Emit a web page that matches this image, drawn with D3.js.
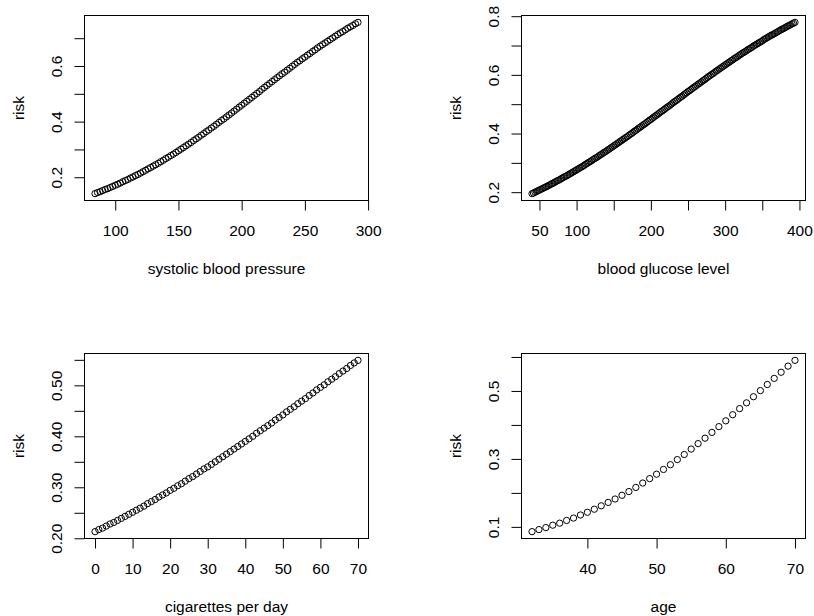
<!DOCTYPE html>
<html><head><meta charset="utf-8">
<script src="https://cdn.jsdelivr.net/npm/d3@7"></script>
<style>
html,body{margin:0;padding:0;background:#fff;}
svg{display:block;}
text{font-family:"Liberation Sans",Arial,Helvetica,sans-serif;fill:#000;}
</style></head><body>
<svg id="c" width="814" height="616"></svg>
<script>
// ---- data ----
const sbpX=[84,86,88,90,92,94,96,98,100,102,104,106,108,110,112,114,116,118,120,122,124,126,128,130,132,134,136,138,140,142,144,146,148,150,152,154,156,158,160,162,164,166,168,170,172,174,176,178,180,182,184,186,188,190,192,194,196,198,200,202,204,206,208,210,212,214,216,218,220,222,224,226,228,230,232,234,236,238,240,242,244,246,248,250,252,254,256,258,260,262,264,266,268,270,272,274,276,278,280,282,284,286,288,290,292];
const sbpRisk=[0.141,0.145,0.148,0.152,0.156,0.159,0.163,0.167,0.171,0.175,
0.179,0.184,0.188,0.192,0.197,0.201,0.206,0.210,0.215,0.220,
0.225,0.230,0.235,0.240,0.245,0.250,0.256,0.261,0.267,0.272,
0.278,0.283,0.289,0.295,0.301,0.307,0.313,0.319,0.325,0.332,
0.338,0.344,0.351,0.357,0.364,0.370,0.377,0.383,0.390,0.397,
0.404,0.410,0.417,0.424,0.431,0.438,0.445,0.452,0.459,0.466,
0.473,0.480,0.487,0.494,0.501,0.508,0.516,0.523,0.530,0.537,
0.544,0.551,0.558,0.565,0.572,0.578,0.585,0.592,0.599,0.606,
0.613,0.619,0.626,0.632,0.639,0.645,0.652,0.658,0.665,0.671,
0.677,0.683,0.689,0.695,0.701,0.707,0.713,0.719,0.724,0.730,
0.736,0.741,0.746,0.752,0.757];

const gluX=[40,42,44,46,48,50,52,54,56,58,
60,62,64,66,68,70,72,74,76,78,
80,82,84,86,88,90,92,94,96,98,
100,102,104,106,108,110,112,114,116,118,
120,122,124,126,128,130,132,134,136,138,
140,142,144,146,148,150,152,154,156,158,
160,162,164,166,168,170,172,174,176,178,
180,182,184,186,188,190,192,194,196,198,
200,202,204,206,208,210,212,214,216,218,
220,222,224,226,228,230,232,234,236,238,
240,242,244,246,248,250,252,254,256,258,
260,262,264,266,268,270,272,274,276,278,
280,282,284,286,288,290,292,294,296,298,
300,302,304,306,308,310,312,314,316,318,
320,322,324,326,328,330,332,334,336,338,
340,342,344,346,348,350,352,354,356,358,
360,362,364,366,368,370,372,374,376,378,
380,382,384,386,388,390,392,394];
const gluRisk=[0.195,0.197,0.200,0.202,0.205,0.207,0.210,0.212,0.215,0.217,
0.220,0.222,0.225,0.228,0.230,0.233,0.236,0.239,0.241,0.244,
0.247,0.250,0.253,0.255,0.258,0.261,0.264,0.267,0.270,0.273,
0.276,0.279,0.282,0.285,0.288,0.291,0.295,0.298,0.301,0.304,
0.307,0.311,0.314,0.317,0.320,0.324,0.327,0.330,0.334,0.337,
0.340,0.344,0.347,0.351,0.354,0.358,0.361,0.365,0.368,0.372,
0.375,0.379,0.382,0.386,0.389,0.393,0.397,0.400,0.404,0.408,
0.411,0.415,0.419,0.422,0.426,0.430,0.433,0.437,0.441,0.445,
0.448,0.452,0.456,0.460,0.463,0.467,0.471,0.475,0.478,0.482,
0.486,0.490,0.493,0.497,0.501,0.505,0.509,0.512,0.516,0.520,
0.524,0.527,0.531,0.535,0.539,0.543,0.546,0.550,0.554,0.558,
0.561,0.565,0.569,0.572,0.576,0.580,0.583,0.587,0.591,0.595,
0.598,0.602,0.605,0.609,0.613,0.616,0.620,0.623,0.627,0.630,
0.634,0.637,0.641,0.644,0.648,0.651,0.655,0.658,0.661,0.665,
0.668,0.672,0.675,0.678,0.681,0.685,0.688,0.691,0.694,0.698,
0.701,0.704,0.707,0.710,0.713,0.716,0.720,0.723,0.726,0.729,
0.732,0.735,0.737,0.740,0.743,0.746,0.749,0.752,0.755,0.757,
0.760,0.763,0.766,0.768,0.771,0.774,0.776,0.779];

const cigX=[0,1,2,3,4,5,6,7,8,9,10,11,12,13,14,15,16,17,18,19,20,21,22,23,24,25,26,27,28,29,30,31,32,33,34,35,36,37,38,39,40,41,42,43,44,45,46,47,48,49,50,51,52,53,54,55,56,57,58,59,60,61,62,63,64,65,66,67,68,69,70];
const cigRisk=[0.213,0.217,0.220,0.224,0.228,0.231,0.235,0.239,0.243,0.247,
0.251,0.255,0.259,0.263,0.268,0.272,0.276,0.281,0.285,0.289,
0.294,0.298,0.303,0.307,0.312,0.317,0.321,0.326,0.331,0.336,
0.340,0.345,0.350,0.355,0.360,0.365,0.370,0.375,0.380,0.385,
0.390,0.395,0.400,0.406,0.411,0.416,0.421,0.426,0.432,0.437,
0.442,0.448,0.453,0.458,0.464,0.469,0.474,0.480,0.485,0.491,
0.496,0.501,0.507,0.512,0.517,0.523,0.528,0.533,0.539,0.544,
0.549];

const ageX=[32,33,34,35,36,37,38,39,40,41,42,43,44,45,46,47,48,49,50,51,52,53,54,55,56,57,58,59,60,61,62,63,64,65,66,67,68,69,70];
const ageRisk=[0.086,0.092,0.098,0.105,0.111,0.119,0.126,0.135,0.143,0.152,
0.162,0.172,0.182,0.193,0.204,0.216,0.229,0.242,0.255,0.269,
0.283,0.298,0.313,0.329,0.345,0.361,0.378,0.395,0.412,0.430,
0.448,0.465,0.483,0.501,0.519,0.537,0.555,0.573,0.590];

// ---- ticks and labels ----
const sbpXTicks=[100,150,200,250,300];
const sbpXLabels=["100","150","200","250","300"];
const sbpYTicks=[0.2,0.3,0.4,0.5,0.6,0.7];
const sbpYLabels=["0.2","0.4","0.6"];
const gluXTicks=[50,100,150,200,250,300,350,400];
const gluXLabels=["50","100","200","300","400"];
const gluYTicks=[0.2,0.3,0.4,0.5,0.6,0.7,0.8];
const gluYLabels=["0.2","0.4","0.6","0.8"];
const cigXTicks=[0,10,20,30,40,50,60,70];
const cigXLabels=["0","10","20","30","40","50","60","70"];
const cigYTicks=[0.20,0.25,0.30,0.35,0.40,0.45,0.50,0.55];
const cigYLabels=["0.20","0.30","0.40","0.50"];
const ageXTicks=[40,50,60,70];
const ageXLabels=["40","50","60","70"];
const ageYTicks=[0.1,0.2,0.3,0.4,0.5,0.6];
const ageYLabels=["0.1","0.3","0.5"];

const xTitles=["systolic blood pressure","blood glucose level","cigarettes per day","age"];
const yTitle="risk";

// ---- layout ----
const W=284, H=185, FS=15.5;
const panels=[
  {left:84.5, top:15.5, x:sbpX, y:sbpRisk, xt:sbpXTicks, xl:sbpXLabels, yt:sbpYTicks, yl:sbpYLabels, title:xTitles[0]},
  {left:521.5, top:15.5, x:gluX, y:gluRisk, xt:gluXTicks, xl:gluXLabels, yt:gluYTicks, yl:gluYLabels, title:xTitles[1]},
  {left:84.5, top:353.5, x:cigX, y:cigRisk, xt:cigXTicks, xl:cigXLabels, yt:cigYTicks, yl:cigYLabels, title:xTitles[2]},
  {left:521.5, top:353.5, x:ageX, y:ageRisk, xt:ageXTicks, xl:ageXLabels, yt:ageYTicks, yl:ageYLabels, title:xTitles[3]}
];

const svg=d3.select("#c");

function padded(arr){
  const [lo,hi]=d3.extent(arr); const r=hi-lo;
  return [lo-0.04*r, hi+0.04*r];
}
function fmtFrom(labels){
  return v=>{ const f=labels.find(s=>Math.abs(+s-v)<1e-9); return f===undefined?"":f; };
}

panels.forEach(p=>{
  const right=p.left+W, bottom=p.top+H;
  const x=d3.scaleLinear().domain(padded(p.x)).range([p.left,right]);
  const y=d3.scaleLinear().domain(padded(p.y)).range([bottom,p.top]);
  const g=svg.append("g");

  // points
  const n=Math.min(p.x.length,p.y.length);
  g.append("g").selectAll("circle").data(d3.range(n)).join("circle")
    .attr("cx",i=>x(p.x[i])).attr("cy",i=>y(p.y[i])).attr("r",3.15)
    .attr("fill","none").attr("stroke","#000").attr("stroke-width",1);

  // x axis
  const gx=g.append("g").attr("transform",`translate(0,${bottom})`)
    .call(d3.axisBottom(x).tickValues(p.xt).tickSize(10).tickFormat(fmtFrom(p.xl)));
  gx.select(".domain").remove();
  gx.attr("font-size",null).attr("font-family",null);
  gx.selectAll("line").attr("stroke","#000");
  gx.selectAll("text").attr("y",35.5).attr("dy",null).style("font-size",FS+"px");

  // y axis
  const gy=g.append("g").attr("transform",`translate(${p.left},0)`)
    .call(d3.axisLeft(y).tickValues(p.yt).tickSize(10).tickFormat(fmtFrom(p.yl)));
  gy.select(".domain").remove();
  gy.attr("font-size",null).attr("font-family",null);
  gy.selectAll("line").attr("stroke","#000");
  gy.selectAll("text").attr("x",null).attr("dy",null)
    .attr("text-anchor","middle").attr("transform","translate(-22.8,0) rotate(-90)")
    .style("font-size",FS+"px");

  // box
  g.append("rect").attr("x",p.left).attr("y",p.top).attr("width",W).attr("height",H)
    .attr("fill","none").attr("stroke","#000").attr("stroke-width",1);

  // titles
  g.append("text").attr("x",(p.left+right)/2).attr("y",bottom+73.5)
    .attr("text-anchor","middle").style("font-size",FS+"px").text(p.title);
  g.append("text").attr("transform",`translate(${p.left-61},${(p.top+bottom)/2}) rotate(-90)`)
    .attr("text-anchor","middle").style("font-size",FS+"px").text(yTitle);
});
</script>
</body></html>
